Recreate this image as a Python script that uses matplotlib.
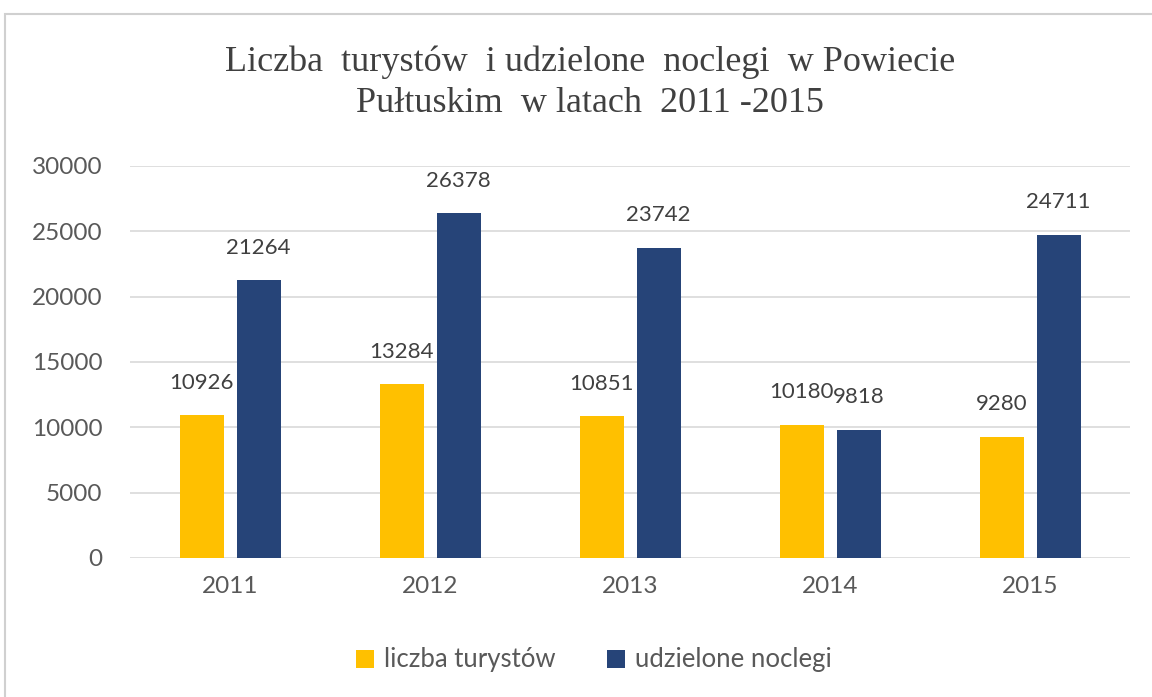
import matplotlib
matplotlib.use("Agg")
import matplotlib.pyplot as plt
from matplotlib.patches import Rectangle, Patch
import numpy as np

years = ["2011", "2012", "2013", "2014", "2015"]
tourists = [10926, 13284, 10851, 10180, 9280]
nights = [21264, 26378, 23742, 9818, 24711]
series_names = ["liczba turystów", "udzielone noclegi"]
yticks = [0, 5000, 10000, 15000, 20000, 25000, 30000]

c_yellow = "#FFC000"
c_blue = "#264478"
txt = "#404040"
tick_c = "#595959"

fig = plt.figure(figsize=(11.52, 6.97), dpi=100)
fig.patch.set_facecolor("white")

# outer chart border
fig.patches.append(Rectangle((5/1152, -0.1), 1.2, 1 - 14/697 + 0.1, transform=fig.transFigure,
                             fill=False, edgecolor="#D0D0D0", linewidth=1.5))

ax = fig.add_axes([130/1152, 139/697, 1000/1152, 392/697])
x = np.arange(len(years))
off = 0.1425
w = 0.22
b1 = ax.bar(x - off, tourists, w, color=c_yellow, zorder=3)
b2 = ax.bar(x + off, nights, w, color=c_blue, zorder=3)

for bars, vals in ((b1, tourists), (b2, nights)):
    for r, v in zip(bars, vals):
        ax.annotate(str(v), (r.get_x() + r.get_width()/2, v), xytext=(0, 23.5),
                    textcoords="offset points", ha="center", va="center",
                    fontsize=16, color=txt, family="Lato", zorder=4)

ax.set_xlim(-0.5, len(years) - 0.5)
ax.set_ylim(0, 30000)
ax.set_yticks(yticks)
ax.set_yticklabels([str(t) for t in yticks])
ax.set_xticks(x)
ax.set_xticklabels(years)
ax.grid(axis="y", color="#D9D9D9", linewidth=1.2, zorder=0)
for s in ax.spines.values():
    s.set_visible(False)
ax.tick_params(axis="both", length=0, colors=tick_c, labelsize=17.5)
ax.tick_params(axis="y", pad=20)
ax.tick_params(axis="x", pad=13)
for lab in ax.get_xticklabels() + ax.get_yticklabels():
    lab.set_family("Lato")

fig.text(590/1152, 1 - 62/697, "Liczba  turystów  i udzielone  noclegi  w Powiecie",
         ha="center", va="center", fontsize=26, family="Liberation Serif", color=txt)
fig.text(590/1152, 1 - 104/697, "Pułtuskim  w latach  2011 -2015",
         ha="center", va="center", fontsize=26, family="Liberation Serif", color=txt)

handles = [Patch(facecolor=c_yellow), Patch(facecolor=c_blue)]
leg = fig.legend(handles, series_names, loc="center", bbox_to_anchor=(594/1152, 1 - 660/697),
                 ncol=2, frameon=False, handlelength=0.7, handleheight=0.7,
                 handletextpad=0.4, columnspacing=2.0,
                 prop={"family": "Lato", "size": 18.5})
for t in leg.get_texts():
    t.set_color(tick_c)

fig.savefig("out.png", dpi=100)
